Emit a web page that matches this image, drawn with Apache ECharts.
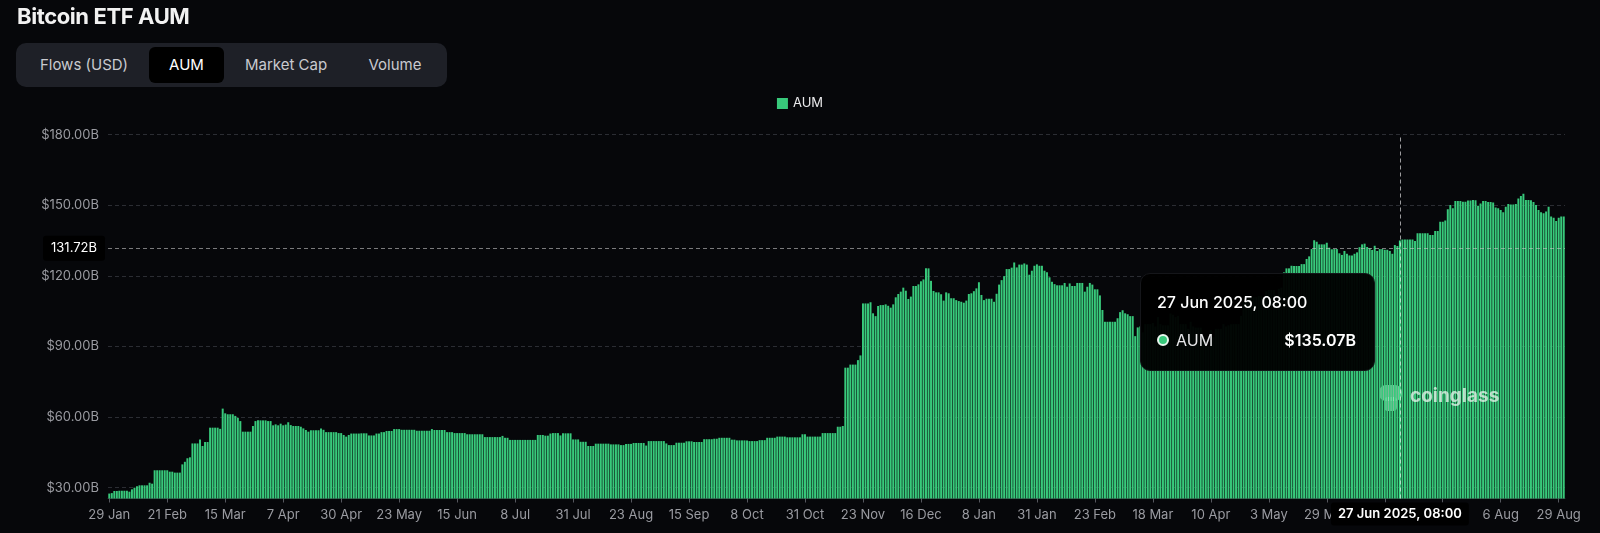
<!DOCTYPE html>
<html>
<head>
<meta charset="utf-8">
<script src="https://cdn.jsdelivr.net/npm/echarts@6.0.0/dist/echarts.min.js"></script>
<style>
  html, body { margin: 0; padding: 0; background: #06070a; }
  #wrap { position: relative; width: 1600px; height: 533px; overflow: hidden; background: #06070a; font-family: Inter, 'Noto Sans', sans-serif; }
  #chart { position: absolute; left: 0; top: 0; width: 1600px; height: 533px; }
  #title { position: absolute; left: 17px; top: 3px; color: #f2f2f2; font-size: 22px; font-weight: 700; letter-spacing: -0.4px; z-index: 5; }
  #tabs { position: absolute; left: 16px; top: 43px; width: 431px; height: 44px; background: #1e2027; border-radius: 10px; z-index: 5; }
  .tab { position: absolute; top: 4px; height: 36px; line-height: 36px; text-align: center; color: #c9cacf; font-size: 15px; border-radius: 6px; }
  .tab.active { background: #000; color: #fff; }
</style>
</head>
<body>
<div id="wrap">
  <div id="chart"></div>
  <div id="title">Bitcoin ETF AUM</div>
  <div id="tabs">
    <div class="tab" style="left:10px;width:116px;">Flows (USD)</div>
    <div class="tab active" style="left:133px;width:75px;">AUM</div>
    <div class="tab" style="left:215px;width:110px;">Market Cap</div>
    <div class="tab" style="left:333px;width:92px;">Volume</div>
  </div>
</div>
<script>
// ---- data ----
const startDate = '2024-01-29';
const endDate = '2025-08-31';
const missingDates = ['2025-05-14', '2025-05-27', '2025-05-28'];
const seriesName = 'AUM';
const yTickValues = [30, 60, 90, 120, 150, 180];
const monthNames = ['Jan','Feb','Mar','Apr','May','Jun','Jul','Aug','Sep','Oct','Nov','Dec'];
const highlightDate = '2025-06-27';
const pointerValue = 131.72;

// AUM in billions USD, one value per category (daily)
const aumValues = [
  27.5, 27.7, 28.6, 28.6, 28.7, 28.7, 28.7, 28.7, 28.3, 29.3,
  30.0, 30.6, 31.0, 31.0, 31.0, 31.0, 32.1, 31.7, 37.4, 37.4,
  37.4, 37.4, 37.4, 37.4, 36.8, 36.8, 36.4, 36.4, 36.4, 39.9,
  41.0, 42.5, 42.9, 48.8, 48.8, 48.8, 50.5, 47.7, 49.4, 49.4,
  55.5, 55.5, 55.5, 55.5, 55.0, 63.6, 61.6, 61.2, 61.2, 61.2,
  60.5, 59.7, 58.3, 53.8, 53.8, 53.8, 53.8, 56.2, 58.3, 58.6,
  58.6, 58.6, 58.6, 58.3, 58.3, 56.5, 56.9, 56.5, 57.2, 56.5,
  56.8, 57.8, 56.6, 56.2, 56.2, 56.2, 55.9, 55.2, 54.5, 53.8,
  54.4, 54.4, 54.4, 54.4, 55.1, 54.6, 53.6, 53.6, 53.6, 53.6,
  53.6, 53.2, 53.2, 52.4, 51.7, 52.4, 53.0, 53.0, 53.0, 53.0,
  53.1, 53.1, 53.1, 52.2, 52.2, 52.2, 53.0, 53.0, 53.6, 53.6,
  54.1, 54.1, 54.1, 54.9, 54.9, 54.9, 54.6, 54.6, 54.6, 54.6,
  54.6, 54.6, 54.2, 54.2, 54.2, 54.2, 54.2, 54.2, 54.9, 54.5,
  54.5, 54.5, 54.5, 54.5, 53.6, 53.6, 53.6, 53.2, 53.2, 53.2,
  53.2, 53.2, 52.7, 52.7, 52.7, 52.7, 52.7, 52.7, 52.7, 51.5,
  51.5, 51.5, 51.5, 51.5, 51.5, 51.5, 52.0, 51.2, 51.2, 50.3,
  50.3, 50.3, 50.3, 50.3, 50.3, 50.3, 50.3, 50.3, 50.3, 50.3,
  52.4, 52.4, 52.4, 52.1, 52.1, 53.0, 53.2, 53.2, 53.2, 52.2,
  53.1, 53.1, 53.1, 53.1, 50.5, 50.5, 50.5, 49.5, 49.5, 49.5,
  47.7, 47.7, 47.7, 48.7, 48.7, 48.7, 48.7, 48.7, 48.7, 48.4,
  48.4, 48.4, 48.4, 48.1, 48.1, 48.6, 48.6, 48.6, 49.0, 49.0,
  49.0, 49.0, 49.0, 47.9, 49.8, 49.8, 49.8, 49.8, 49.8, 49.8,
  49.8, 48.8, 48.1, 48.1, 48.1, 49.1, 49.1, 49.1, 49.1, 49.7,
  49.7, 49.7, 49.4, 49.4, 49.4, 49.4, 50.6, 50.6, 50.6, 50.6,
  50.8, 50.8, 51.2, 51.2, 51.2, 51.2, 51.2, 50.4, 50.4, 50.1,
  50.1, 50.1, 50.1, 50.1, 49.8, 49.8, 49.8, 49.8, 50.2, 50.2,
  50.2, 51.2, 51.2, 51.2, 51.2, 51.7, 51.7, 51.7, 51.7, 51.4,
  51.4, 51.4, 51.4, 51.4, 51.4, 52.7, 52.7, 51.7, 51.7, 51.7,
  51.7, 51.7, 51.7, 53.2, 53.2, 53.2, 53.2, 53.2, 53.2, 55.9,
  55.9, 56.2, 81.0, 81.0, 82.3, 82.3, 82.3, 84.2, 86.2, 108.3,
  108.3, 108.3, 108.8, 104.1, 102.9, 107.2, 107.6, 107.6, 107.9, 107.3,
  106.5, 107.9, 110.9, 112.3, 113.3, 115.0, 113.7, 110.2, 111.2, 115.7,
  115.7, 116.4, 117.7, 118.5, 123.2, 123.2, 117.9, 113.6, 113.0, 113.0,
  112.2, 109.5, 113.0, 112.6, 110.5, 110.5, 109.7, 109.3, 109.0, 108.6,
  109.5, 112.3, 112.6, 113.5, 114.7, 117.3, 111.9, 109.7, 110.3, 110.3,
  110.3, 109.0, 112.4, 116.3, 118.2, 119.9, 122.9, 122.9, 123.5, 125.7,
  123.6, 124.8, 124.8, 125.3, 124.8, 120.5, 122.2, 124.3, 124.9, 124.3,
  124.3, 122.2, 121.6, 119.4, 117.5, 116.5, 116.0, 116.0, 116.0, 117.0,
  115.4, 116.8, 115.7, 115.7, 117.0, 117.0, 117.0, 113.3, 115.4, 117.0,
  116.3, 114.3, 114.3, 111.7, 105.5, 100.5, 100.5, 100.5, 100.5, 100.5,
  102.0, 104.6, 105.4, 104.1, 103.7, 102.9, 102.9, 94.4, 98.1, 98.5,
  96.0, 99.5, 99.5, 99.5, 100.0, 98.5, 102.5, 99.5, 99.0, 99.0,
  99.0, 104.0, 103.5, 102.5, 103.0, 99.5, 99.5, 99.5, 97.5, 100.5,
  98.5, 98.0, 98.0, 98.0, 93.5, 93.0, 90.0, 97.0, 94.0, 97.5,
  97.5, 97.5, 99.5, 98.5, 99.0, 99.5, 99.5, 99.5, 99.5, 103.0,
  109.0, 110.0, 110.5, 111.0, 111.0, 111.0, 111.5, 111.5, 111.0, 113.5,
  114.0, 114.0, 114.0, 112.0, 114.5, 115.0, 121.5, 123.2, 123.2, 124.3,
  124.2, 124.2, 124.2, 125.0, 125.0, 127.2, 128.3, 131.4, 135.1, 134.5,
  133.4, 133.4, 133.4, 134.1, 132.0, 131.3, 131.4, 131.4, 129.6, 128.9,
  130.6, 129.4, 128.7, 128.7, 129.4, 130.0, 132.2, 133.4, 133.7, 132.3,
  131.7, 131.0, 132.8, 130.6, 131.4, 131.4, 131.1, 131.1, 130.6, 129.4,
  133.1, 132.7, 135.07, 135.5, 135.5, 135.5, 135.5, 135.5, 134.8, 138.1,
  138.1, 138.1, 138.1, 138.1, 137.4, 137.4, 139.1, 139.1, 143.0, 143.0,
  143.5, 148.3, 150.1, 148.7, 151.8, 151.8, 151.8, 151.5, 151.5, 152.0,
  152.0, 152.2, 152.1, 149.8, 150.8, 151.8, 151.8, 151.4, 151.4, 151.2,
  149.1, 148.7, 148.0, 147.0, 149.4, 150.5, 150.3, 150.3, 150.5, 152.9,
  153.9, 154.9, 152.2, 152.2, 152.1, 151.4, 150.1, 148.0, 147.0, 146.6,
  147.4, 149.4, 145.2, 144.7, 143.3, 144.7, 145.2, 145.2
];

// ---- build category list (daily dates) ----
function pad(n) { return n < 10 ? '0' + n : '' + n; }
const categories = [];
(function () {
  const d = new Date(startDate + 'T00:00:00Z');
  const end = new Date(endDate + 'T00:00:00Z');
  while (d <= end) {
    const s = d.getUTCFullYear() + '-' + pad(d.getUTCMonth() + 1) + '-' + pad(d.getUTCDate());
    if (missingDates.indexOf(s) < 0) categories.push(s);
    d.setUTCDate(d.getUTCDate() + 1);
  }
})();

function shortLabel(s) {
  const p = s.split('-');
  return parseInt(p[2], 10) + ' ' + monthNames[parseInt(p[1], 10) - 1];
}
function longLabel(s) {
  const p = s.split('-');
  return parseInt(p[2], 10) + ' ' + monthNames[parseInt(p[1], 10) - 1] + ' ' + p[0] + ', 08:00';
}

const GREEN = '#38c97b';
const chart = echarts.init(document.getElementById('chart'), null, { renderer: 'canvas' });

const option = {
  backgroundColor: '#06070a',
  animation: false,
  textStyle: { fontFamily: 'Inter, "Noto Sans", sans-serif' },
  legend: {
    data: [seriesName],
    top: 92,
    left: 'center',
    icon: 'rect',
    itemWidth: 11,
    itemHeight: 11,
    textStyle: { color: '#e8e8ea', fontSize: 13 }
  },
  grid: { left: 108, right: 35, top: 134.7, bottom: 34.5, containLabel: false },
  tooltip: {
    trigger: 'axis',
    alwaysShowContent: true,
    transitionDuration: 0,
    backgroundColor: 'rgba(0,0,0,0.96)',
    borderColor: '#15161a',
    borderWidth: 1,
    borderRadius: 10,
    padding: [18, 18, 20, 16],
    extraCssText: 'box-shadow:none;width:199px;',
    axisPointer: {
      type: 'cross',
      crossStyle: { color: 'rgba(255,255,255,0.55)', type: [4, 3], width: 1 }
    },
    position: function (point, params, dom, rect, size) {
      return [point[0] - size.contentSize[0] - 25, point[1] + 25];
    },
    formatter: function (params) {
      const p = params[0];
      return '<div style="font-family:Inter,sans-serif;color:#fff;">' +
        '<div style="font-size:16px;font-weight:500;line-height:20px;">' + longLabel(p.name) + '</div>' +
        '<div style="margin-top:18px;display:flex;align-items:center;font-size:16px;line-height:20px;">' +
        '<span style="display:inline-block;width:8px;height:8px;border-radius:50%;background:' + GREEN + ';border:2px solid #e9f7ef;margin-right:7px;"></span>' +
        '<span style="color:#e6e6e8;">' + p.seriesName + '</span>' +
        '<span style="margin-left:auto;font-weight:600;">$' + Number(p.value).toFixed(2) + 'B</span>' +
        '</div></div>';
    }
  },
  xAxis: {
    type: 'category',
    data: categories,
    boundaryGap: true,
    axisLine: { show: true, lineStyle: { color: '#2a2c33' } },
    axisTick: { show: true, alignWithLabel: true, interval: 22, length: 4, lineStyle: { color: '#55575e' } },
    axisLabel: {
      interval: 22,
      color: '#9a9ba1',
      fontSize: 13,
      margin: 10,
      formatter: function (v) { return shortLabel(v); }
    },
    splitLine: { show: false },
    axisPointer: {
      lineStyle: { color: 'rgba(255,255,255,0.6)', type: [4, 3], width: 1 },
      label: {
        show: true,
        backgroundColor: '#000',
        color: '#fff',
        fontSize: 13,
        fontWeight: 600,
        padding: [5, 7, 5, 7],
        margin: 4,
        formatter: function (p) { return longLabel(p.value); }
      }
    }
  },
  yAxis: {
    type: 'value',
    min: 25.4,
    max: 180,
    axisLine: { show: false },
    axisTick: { show: false, customValues: yTickValues },
    axisLabel: {
      customValues: yTickValues,
      color: '#9a9ba1',
      fontSize: 13,
      margin: 9,
      formatter: function (v) { return '$' + Number(v).toFixed(2) + 'B'; }
    },
    splitLine: { show: true, lineStyle: { color: '#2b2d33', type: [4, 3], width: 1 } },
    axisPointer: {
      lineStyle: { color: 'rgba(200,200,200,0.6)', type: [4, 3], width: 1 },
      label: {
        show: true,
        backgroundColor: '#000',
        color: '#fff',
        fontSize: 13,
        padding: [6, 8, 6, 8],
        formatter: function (p) { return Number(p.value).toFixed(2) + 'B'; }
      }
    }
  },
  graphic: [
    {
      type: 'group', left: 1379, top: 385, silent: true, z: 50,
      children: [
        { type: 'rect', shape: { x: 0, y: 0, width: 23, height: 16, r: 7 }, style: { fill: 'rgba(235,245,238,0.72)' } },
        { type: 'rect', shape: { x: 5, y: 12, width: 13, height: 14, r: 4 }, style: { fill: 'rgba(235,245,238,0.72)' } }
      ]
    },
    {
      type: 'text', left: 1410, top: 387, silent: true, z: 50,
      style: { text: 'coinglass', fill: 'rgba(235,245,238,0.75)', font: '700 19px Inter, sans-serif' }
    }
  ],
  series: [{
    name: seriesName,
    type: 'bar',
    data: aumValues,
    barCategoryGap: '22%',
    itemStyle: { color: GREEN },
    large: false
  }]
};

chart.setOption(option);

const hiIndex = categories.indexOf(highlightDate);
const px = chart.convertToPixel({ gridIndex: 0 }, [hiIndex, pointerValue]);
chart.dispatchAction({ type: 'showTip', x: px[0], y: px[1] });
</script>
</body>
</html>
